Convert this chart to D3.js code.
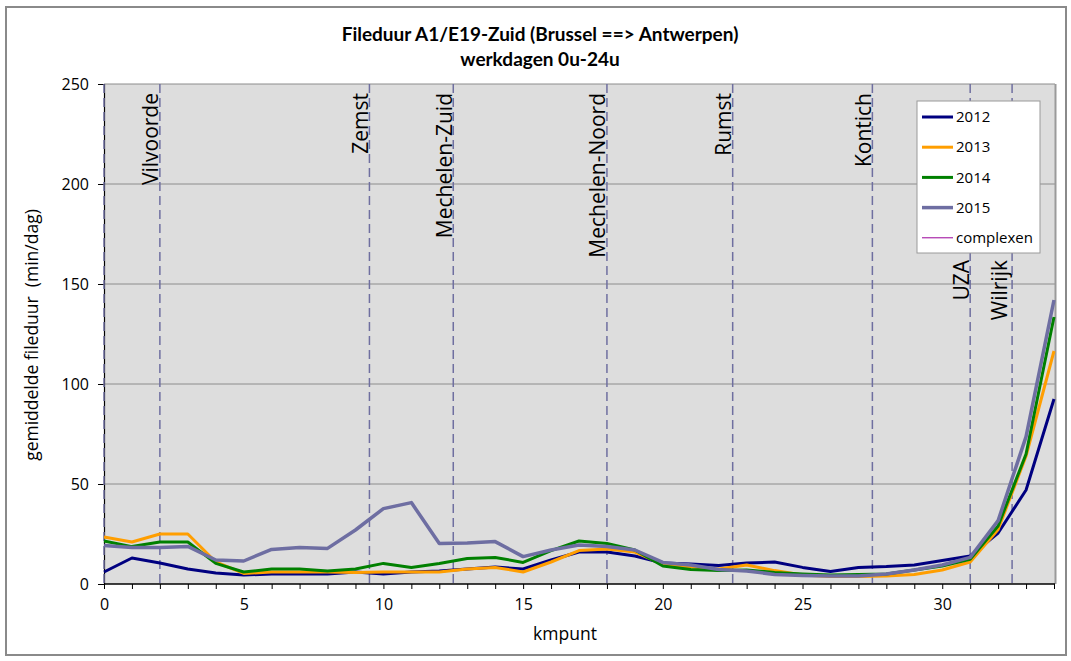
<!DOCTYPE html>
<html>
<head>
<meta charset="utf-8">
<script src="https://cdn.jsdelivr.net/npm/d3@7/dist/d3.min.js"></script>
<style>
  html, body { margin: 0; padding: 0; background: #fff; }
  svg { display: block; }
  text { font-family: "Open Sans", "DejaVu Sans", sans-serif; fill: #000; }
</style>
</head>
<body>
<svg id="chart" width="1071" height="661"></svg>
<script>
// kilometre points along the road
const km = d3.range(0, 35);

// average queue duration (min/day) per km point, per year
const y2012 = [6, 13, 10.5, 7.5, 5.5, 4.5, 5, 5, 5, 6, 5, 6, 6.5, 7.5, 8.5, 7.5, 12, 16, 16, 14, 10.5, 10, 9.3, 10.5, 11, 8.3, 6.3, 8.3, 8.7, 9.5, 11.7, 14, 25.5, 47, 92.5];
const y2013 = [23.5, 21, 25, 25, 11, 5.3, 6, 6, 6, 5.7, 6, 6, 6, 7.5, 8.3, 6, 11, 16.7, 17.5, 16, 10, 8.5, 7.5, 9.5, 6.7, 4.5, 3.7, 3.7, 4, 4.7, 7, 11, 27.3, 64, 116.5];
const y2014 = [21.5, 18.7, 21, 21, 10.3, 6, 7.5, 7.5, 6.5, 7.5, 10.3, 8.3, 10.3, 12.7, 13.3, 10.8, 16.7, 21.5, 20.3, 17, 9, 7.3, 6.7, 7, 5.8, 5, 4.5, 4.8, 5, 7, 9, 12.3, 29, 65, 133.5];
const y2015 = [19.2, 18.2, 18.2, 18.8, 12, 11.5, 17.3, 18.2, 17.8, 27, 37.7, 40.7, 20.3, 20.5, 21.2, 13.7, 17, 19.5, 18.7, 17, 10.8, 9.5, 7.3, 6.5, 4.8, 4.3, 4, 4, 5, 7, 9.5, 13.3, 31.7, 73.7, 142];

// interchanges (complexen) and their km point
const complexKm = [0, 2, 9.5, 12.5, 18, 22.5, 27.5, 31, 32.5];
const complexNames = ["", "Vilvoorde", "Zemst", "Mechelen-Zuid", "Mechelen-Noord", "Rumst", "Kontich", "UZA", "Wilrijk"];

const seriesNames = ["2012", "2013", "2014", "2015"];
const yTicks = [0, 50, 100, 150, 200, 250];
const xTicks = [0, 5, 10, 15, 20, 25, 30];

const titleLines = ["Fileduur A1/E19-Zuid (Brussel ==> Antwerpen)", "werkdagen 0u-24u"];
const xTitle = "kmpunt";
const yTitle = "gemiddelde fileduur  (min/dag)";

// ---- styling ----
const colors = { "2012": "#000080", "2013": "#FF9E00", "2014": "#008000", "2015": "#6E6EA2" };
const widths = { "2012": 3, "2013": 3, "2014": 3, "2015": 3.5 };
const complexColor = "#990099";
const dashColor = "#6F6FA0";

const svg = d3.select("#chart");
const plot = { left: 104, right: 1054, top: 84, bottom: 584 };

const x = d3.scaleLinear().domain([0, 34]).range([plot.left, plot.right]);
const y = d3.scaleLinear().domain([0, 250]).range([plot.bottom, plot.top]);

// outer chart frame
svg.append("rect")
  .attr("x", 6).attr("y", 7).attr("width", 1060).attr("height", 648)
  .attr("fill", "#fff").attr("stroke", "#8a8a8a").attr("stroke-width", 2);

// title
const title = svg.append("text")
  .attr("x", 540).attr("text-anchor", "middle")
  .style("font-family", "Lato, 'Open Sans', sans-serif")
  .style("font-weight", "bold").style("font-size", "19px");
titleLines.forEach((t, i) => {
  title.append("tspan").attr("x", 540).attr("y", 41 + i * 25).text(t);
});

// plot background
svg.append("rect")
  .attr("x", plot.left).attr("y", plot.top)
  .attr("width", plot.right + 1 - plot.left).attr("height", plot.bottom - plot.top)
  .attr("fill", "#DDDDDD");

// horizontal gridlines
svg.append("g").selectAll("line")
  .data(yTicks.filter(d => d > 0))
  .join("line")
  .attr("x1", plot.left).attr("x2", plot.right + 1)
  .attr("y1", d => y(d)).attr("y2", d => y(d))
  .attr("stroke", "#8c8c8c").attr("stroke-width", 1);

// right frame of plot area
svg.append("line")
  .attr("x1", plot.right + 1.5).attr("x2", plot.right + 1.5)
  .attr("y1", plot.top).attr("y2", plot.bottom)
  .attr("stroke", "#9a9a9a").attr("stroke-width", 2);

// y axis
const yAxis = svg.append("g")
  .attr("transform", `translate(${plot.left},0)`)
  .call(d3.axisLeft(y).tickValues(yTicks).tickSize(6).tickPadding(9));
yAxis.select(".domain").attr("stroke", "#000").attr("stroke-width", 1.2);
yAxis.selectAll(".tick line").attr("stroke", "#000");
yAxis.selectAll(".tick text").style("font-size", "16px").style("font-family", "'Open Sans', sans-serif");

// x axis: minor ticks every km, labels every 5
const xAxis = svg.append("g")
  .attr("transform", `translate(0,${plot.bottom})`)
  .call(d3.axisBottom(x).tickValues(km).tickSize(5).tickPadding(10)
    .tickFormat(d => xTicks.includes(d) ? d : ""));
xAxis.select(".domain").attr("stroke", "#000").attr("stroke-width", 1.5)
  .attr("d", `M${plot.left},0H${plot.right + 1}`);
xAxis.selectAll(".tick line").attr("stroke", "#000");
xAxis.selectAll(".tick text").style("font-size", "16px").style("font-family", "'Open Sans', sans-serif");

// axis titles
svg.append("text")
  .attr("x", 565).attr("y", 640).attr("text-anchor", "middle")
  .style("font-size", "17.5px").text(xTitle);
svg.append("text")
  .attr("transform", "translate(38,335) rotate(-90)")
  .attr("text-anchor", "middle")
  .style("white-space", "pre")
  .style("font-size", "17.5px").text(yTitle);

// interchange markers
const cg = svg.append("g");
cg.selectAll("line")
  .data(complexKm)
  .join("line")
  .attr("x1", d => x(d)).attr("x2", d => x(d))
  .attr("y1", plot.top).attr("y2", plot.bottom)
  .attr("stroke", dashColor).attr("stroke-width", 1.5)
  .attr("stroke-dasharray", "9,5");

const labelTop = d => (d >= 31 ? y(162) : y(245.5));
cg.selectAll("text")
  .data(complexKm.map((k, i) => ({ k, name: complexNames[i] })).filter(d => d.name))
  .join("text")
  .attr("transform", d => `translate(${x(d.k) - (d.name === "Wilrijk" ? 5 : 1.5)},${labelTop(d.k)}) rotate(-90)`)
  .attr("text-anchor", "end")
  .style("font-size", "21px")
  .text(d => d.name);

// series lines
const line = d3.line().x((d, i) => x(km[i])).y(d => y(d));
const series = [y2012, y2013, y2014, y2015];
svg.append("g").selectAll("path")
  .data(series)
  .join("path")
  .attr("d", d => line(d))
  .attr("fill", "none")
  .attr("stroke", (d, i) => colors[seriesNames[i]])
  .attr("stroke-width", (d, i) => widths[seriesNames[i]])
  .attr("stroke-linejoin", "round");

// legend
const lg = svg.append("g").attr("transform", "translate(917,101)");
lg.append("rect").attr("width", 123).attr("height", 152)
  .attr("fill", "#fff").attr("stroke", "#9a9a9a").attr("stroke-width", 1);
const legendItems = seriesNames.map(n => ({ n, c: colors[n], w: widths[n] }))
  .concat([{ n: "complexen", c: complexColor, w: 1 }]);
const li = lg.selectAll("g").data(legendItems).join("g")
  .attr("transform", (d, i) => `translate(0,${16 + i * 30.2})`);
li.append("line").attr("x1", 5).attr("x2", 36)
  .attr("stroke", d => d.c).attr("stroke-width", d => d.w);
li.append("text").attr("x", 39).attr("dy", "0.35em")
  .style("font-size", "15px").text(d => d.n);
</script>
</body>
</html>
